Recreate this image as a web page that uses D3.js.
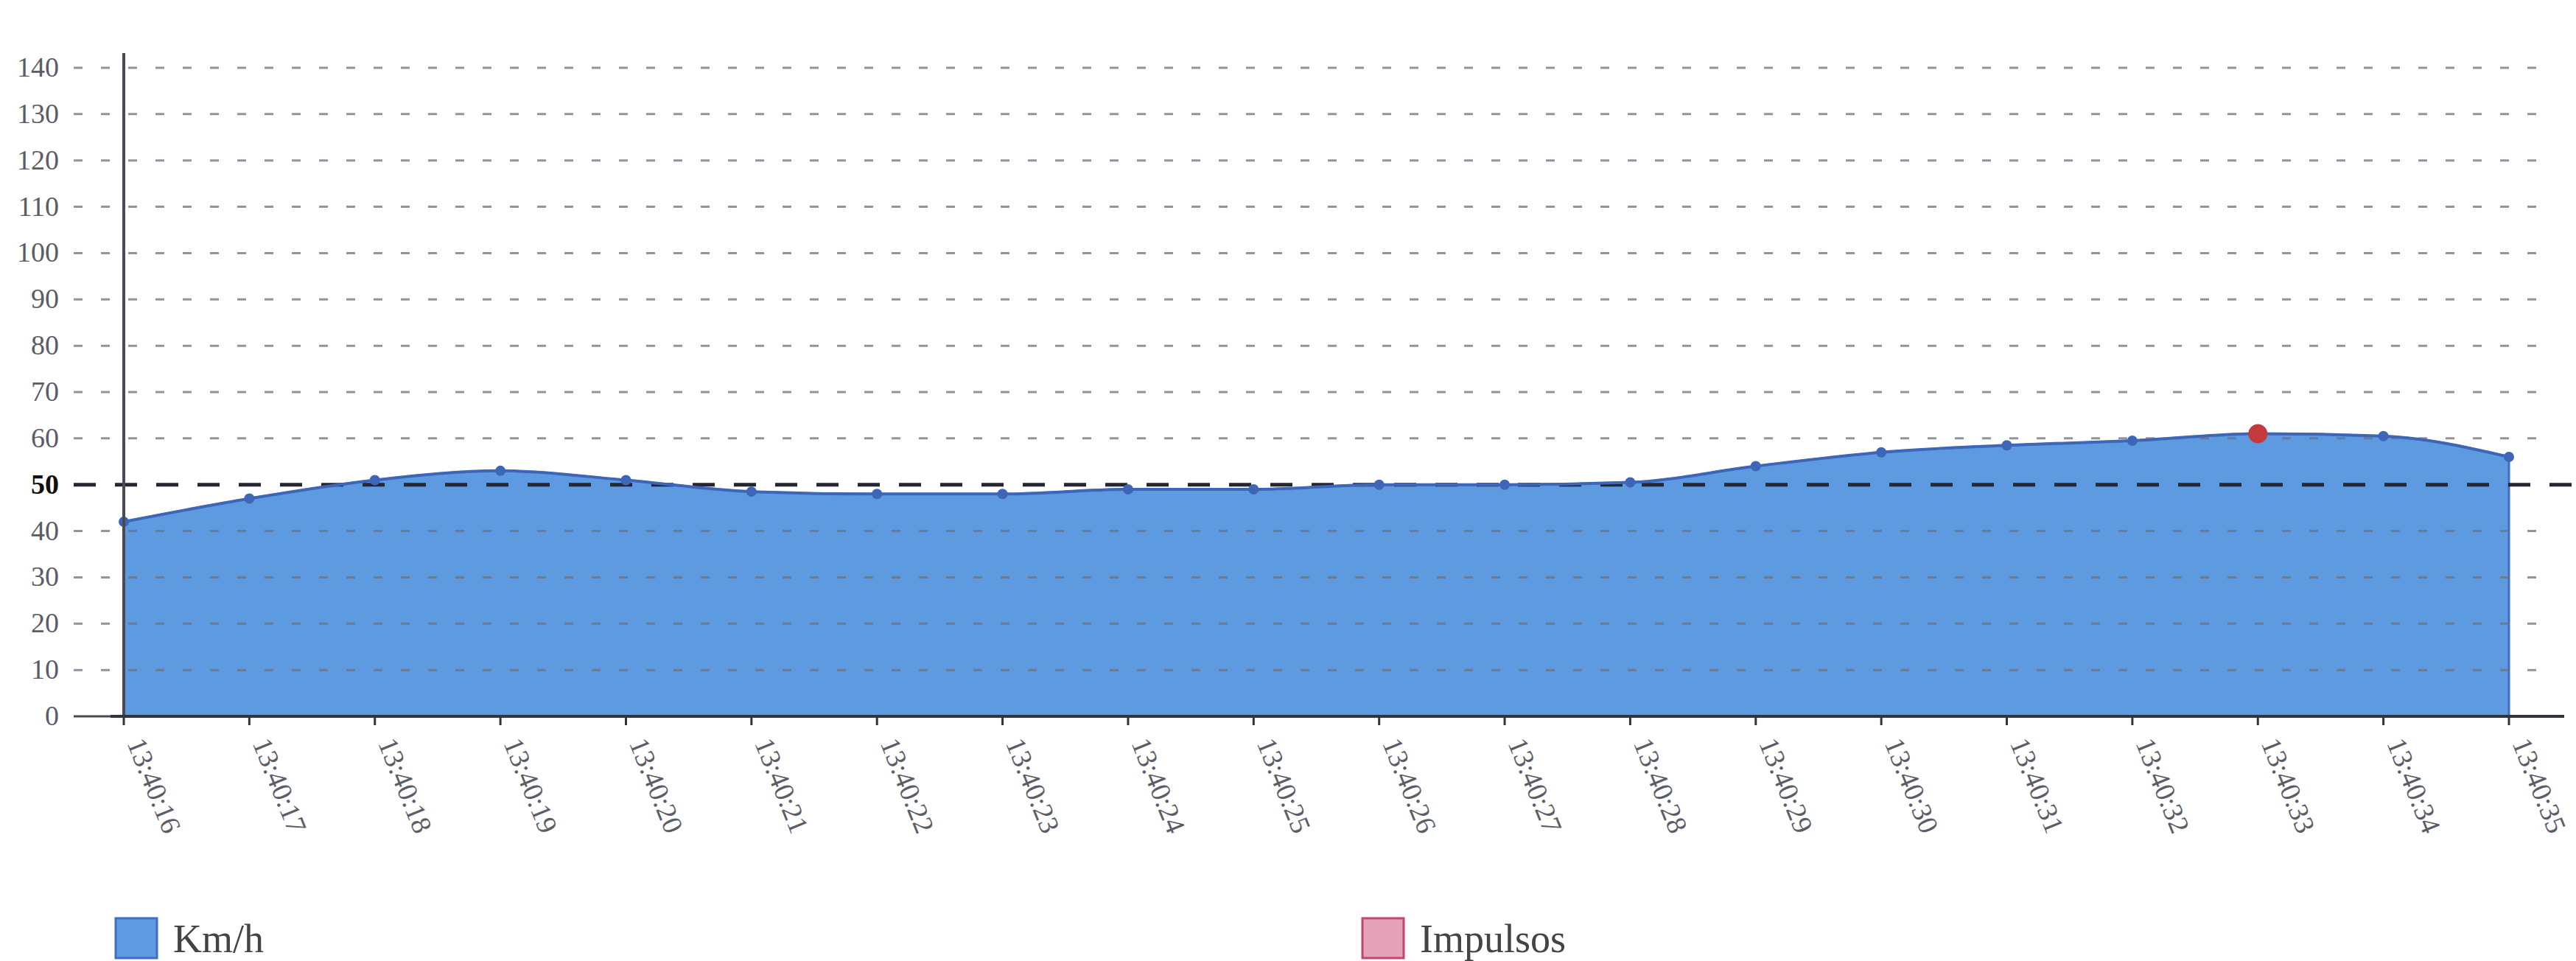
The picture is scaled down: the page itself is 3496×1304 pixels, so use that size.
<!DOCTYPE html>
<html lang="es">
  <head>
    <title>Km/h</title>
    <script src="https://d3js.org/d3.v7.min.js"></script>
    <style>
      body { margin: 0; background: #fff; }
      text { font-family: "Liberation Serif", "DejaVu Serif", serif; }
      .grid line { stroke: #6c7080; stroke-width: 3; stroke-dasharray: 12 25; stroke-opacity: 0.75; }
      .ylab { fill: #5c5c66; font-size: 38px; }
      .xlab { fill: #5c5c66; font-size: 38px; }
    </style>
  </head>
  <body>
    <svg width="3496" height="1304"></svg>

    <script>
      // values
      var times = ["13:40:16","13:40:17","13:40:18","13:40:19","13:40:20",
                   "13:40:21","13:40:22","13:40:23","13:40:24","13:40:25",
                   "13:40:26","13:40:27","13:40:28","13:40:29","13:40:30",
                   "13:40:31","13:40:32","13:40:33","13:40:34","13:40:35"];
      var kmh = [42, 47, 51, 53, 51, 48.5, 48, 48, 49, 49,
                 50, 50, 50.5, 54, 57, 58.5, 59.5, 61, 60.5, 56];
      var impulsoTimes = ["13:40:33"];
      var impulsoValues = [61];
      var yTicks = [0,10,20,30,40,50,60,70,80,90,100,110,120,130,140];
      var limit = 50;
      var legendNames = ["Km/h", "Impulsos"];

      var svg = d3.select("svg");
      var x = d3.scalePoint().domain(times).range([168, 3405]);
      var y = d3.scaleLinear().domain([0, 140]).range([972, 92]);

      var pts = times.map(function(t, i){ return {t: t, v: kmh[i]}; });

      // area
      var area = d3.area().x(function(d){ return x(d.t); })
                          .y0(y(0)).y1(function(d){ return y(d.v); })
                          .curve(d3.curveMonotoneX);
      svg.append("path").datum(pts).attr("d", area)
         .attr("fill", "#5e9ae0").attr("stroke", "#3f6fc2").attr("stroke-width", 3);

      // grid lines (over the area, like the original)
      var grid = svg.append("g").attr("class", "grid");
      grid.selectAll("line").data(yTicks.filter(function(v){ return v > 0 && v !== limit; }))
          .enter().append("line")
          .attr("x1", 100).attr("x2", 3465)
          .attr("y1", function(d){ return y(d); }).attr("y2", function(d){ return y(d); });

      // limit line at 50
      svg.append("line")
         .attr("x1", 100).attr("x2", 3496)
         .attr("y1", y(limit)).attr("y2", y(limit))
         .attr("stroke", "#262630").attr("stroke-width", 5)
         .attr("stroke-dasharray", "30 26");

      // line on top of area
      var line = d3.line().x(function(d){ return x(d.t); })
                          .y(function(d){ return y(d.v); })
                          .curve(d3.curveMonotoneX);
      svg.append("path").datum(pts).attr("d", line)
         .attr("fill", "none").attr("stroke", "#3d66b8").attr("stroke-width", 4);

      svg.append("g").selectAll("circle").data(pts).enter().append("circle")
         .attr("cx", function(d){ return x(d.t); })
         .attr("cy", function(d){ return y(d.v); })
         .attr("r", 7).attr("fill", "#3d66b8");

      // impulsos
      svg.append("g").selectAll("circle").data(impulsoTimes).enter().append("circle")
         .attr("cx", function(d){ return x(d); })
         .attr("cy", function(d, i){ return y(impulsoValues[i]); })
         .attr("r", 13).attr("fill", "#c23a3c");

      // y axis
      svg.append("line").attr("x1", 168).attr("x2", 168)
         .attr("y1", 72).attr("y2", y(0))
         .attr("stroke", "#4a4a55").attr("stroke-width", 4);
      svg.append("g").selectAll("text").data(yTicks).enter().append("text")
         .attr("class", "ylab")
         .attr("x", 80).attr("y", function(d){ return y(d) + 12; })
         .attr("text-anchor", "end")
         .style("font-weight", function(d){ return d === limit ? "bold" : null; })
         .style("fill", function(d){ return d === limit ? "#111" : null; })
         .text(function(d){ return d; });
      svg.append("line").attr("x1", 100).attr("x2", 150)
         .attr("y1", y(0)).attr("y2", y(0))
         .attr("stroke", "#4a4a55").attr("stroke-width", 3);

      // x axis
      svg.append("line").attr("x1", 150).attr("x2", 3480)
         .attr("y1", y(0)).attr("y2", y(0))
         .attr("stroke", "#333340").attr("stroke-width", 4);
      svg.append("g").selectAll("line").data(times).enter().append("line")
         .attr("x1", function(d){ return x(d); }).attr("x2", function(d){ return x(d); })
         .attr("y1", y(0)).attr("y2", y(0) + 12)
         .attr("stroke", "#333340").attr("stroke-width", 3);
      svg.append("g").selectAll("text").data(times).enter().append("text")
         .attr("class", "xlab")
         .attr("transform", function(d){ return "translate(" + (x(d) + 4) + "," + (y(0) + 36) + ") rotate(68)"; })
         .text(function(d){ return d; });

      // legend
      var legX = [157, 1849];
      var legFill = ["#5e9ae0", "#e4a3b8"];
      var legStroke = ["#3f6fc2", "#c4466a"];
      var leg = svg.append("g").selectAll("g").data(legendNames).enter().append("g")
         .attr("transform", function(d, i){ return "translate(" + legX[i] + ",1246)"; });
      leg.append("rect").attr("width", 56).attr("height", 54)
         .attr("fill", function(d, i){ return legFill[i]; })
         .attr("stroke", function(d, i){ return legStroke[i]; })
         .attr("stroke-width", 3);
      leg.append("text").attr("x", 78).attr("y", 46)
         .style("font-size", "54px").style("fill", "#444")
         .text(function(d){ return d; });
    </script>
  </body>
</html>
